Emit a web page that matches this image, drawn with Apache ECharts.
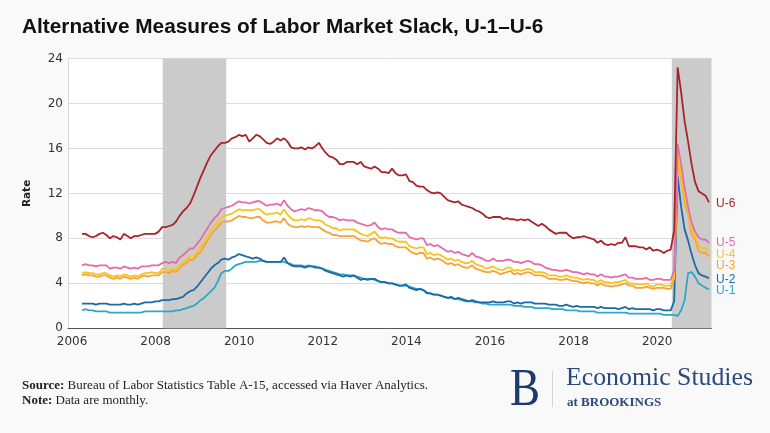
<!DOCTYPE html>
<html>
<head>
<meta charset="utf-8">
<script src="https://cdn.jsdelivr.net/npm/echarts@6/dist/echarts.min.js"></script>
<style>
  html, body { margin: 0; padding: 0; background: #f9f9f9; }
  #chart { width: 770px; height: 433px; }
</style>
</head>
<body>
<div id="chart"></div>
<script>
// Position of the first observation on the picture's year axis
const FIRST_POINT_YEAR = 2006.24;

const xTickLabels = [2006, 2008, 2010, 2012, 2014, 2016, 2018, 2020];
const yTicks = { min: 0, max: 24, interval: 4 };

// Recession shading (picture's year axis)
const recessionStarts = [2008.17, 2020.35];
const recessionEnds   = [2009.69, 2021.30];

const seriesNames = ['U-1', 'U-2', 'U-3', 'U-4', 'U-5', 'U-6'];

const u1 = [
  1.6,1.7,1.6,1.6,1.5,1.5,1.5,1.5,1.4,1.4,1.4,1.4,
  1.4,1.4,1.4,1.4,1.4,1.4,1.5,1.5,1.5,1.5,1.5,1.5,
  1.5,1.5,1.5,1.6,1.6,1.7,1.8,1.9,2.0,2.2,2.5,2.7,
  3.0,3.3,3.6,4.2,4.9,5.1,5.1,5.3,5.6,5.7,5.8,5.9,
  5.9,5.9,5.9,6.0,6.0,5.9,5.9,5.9,5.9,5.9,5.9,5.8,
  5.7,5.6,5.6,5.6,5.5,5.6,5.5,5.5,5.4,5.3,5.2,5.1,
  5.0,4.9,4.8,4.8,4.7,4.7,4.7,4.6,4.5,4.4,4.4,4.4,
  4.3,4.2,4.1,4.1,4.0,4.0,3.9,3.8,3.8,3.8,3.7,3.6,
  3.5,3.5,3.4,3.2,3.1,3.0,3.0,2.9,2.8,2.7,2.7,2.6,
  2.6,2.5,2.4,2.4,2.4,2.3,2.3,2.2,2.2,2.1,2.1,2.1,
  2.1,2.1,2.1,2.1,2.0,2.0,2.0,1.9,1.9,1.9,1.8,1.8,
  1.8,1.8,1.8,1.7,1.7,1.7,1.7,1.6,1.6,1.6,1.6,1.5,
  1.5,1.5,1.5,1.5,1.4,1.4,1.4,1.4,1.4,1.4,1.4,1.4,
  1.4,1.3,1.3,1.3,1.3,1.3,1.3,1.3,1.3,1.3,1.3,1.2,
  1.2,1.2,1.2,1.1,1.6,2.5,4.9,5.0,4.6,4.0,3.8,3.6,
  3.45
];
const u2 = [
  2.2,2.2,2.2,2.2,2.1,2.2,2.2,2.2,2.1,2.1,2.1,2.1,
  2.2,2.1,2.1,2.2,2.1,2.2,2.3,2.3,2.3,2.4,2.4,2.5,
  2.5,2.5,2.6,2.6,2.7,2.8,3.1,3.3,3.4,3.7,4.1,4.5,
  4.9,5.3,5.6,5.8,6.1,6.2,6.1,6.3,6.4,6.6,6.5,6.4,
  6.3,6.2,6.3,6.2,6.0,5.9,5.9,5.9,5.9,5.9,6.3,5.8,
  5.6,5.5,5.5,5.5,5.4,5.5,5.5,5.4,5.4,5.3,5.1,5.0,
  4.9,4.8,4.7,4.6,4.7,4.6,4.7,4.5,4.3,4.4,4.3,4.4,
  4.4,4.2,4.1,4.1,4.0,4.0,3.9,3.8,3.8,3.9,3.6,3.5,
  3.4,3.5,3.4,3.1,3.1,3.0,3.0,2.9,2.8,2.7,2.8,2.6,
  2.7,2.6,2.5,2.4,2.5,2.4,2.3,2.3,2.3,2.3,2.4,2.3,
  2.3,2.3,2.4,2.4,2.2,2.3,2.2,2.3,2.3,2.3,2.2,2.2,
  2.2,2.2,2.1,2.1,2.1,2.0,2.0,2.1,2.0,1.9,2.0,1.9,
  1.9,1.9,1.9,1.9,1.8,1.9,1.8,1.8,1.8,1.8,1.7,1.8,
  1.9,1.7,1.8,1.7,1.7,1.7,1.7,1.7,1.6,1.7,1.7,1.6,
  1.6,1.6,2.4,13.5,10.8,8.8,7.8,6.6,5.6,4.9,4.7,4.6,
  4.45
];
const u3 = [
  4.7,4.8,4.7,4.7,4.6,4.6,4.7,4.7,4.5,4.4,4.5,4.4,
  4.6,4.5,4.4,4.5,4.4,4.6,4.7,4.6,4.7,4.7,4.7,5.0,
  5.0,4.9,5.1,5.0,5.4,5.6,5.8,6.1,6.1,6.5,6.8,7.3,
  7.8,8.3,8.7,9.0,9.4,9.5,9.5,9.6,9.8,10.0,9.9,9.9,
  9.8,9.8,9.9,9.9,9.6,9.4,9.4,9.5,9.5,9.4,9.8,9.3,
  9.1,9.0,9.0,9.1,9.0,9.1,9.0,9.0,9.0,8.8,8.6,8.5,
  8.3,8.3,8.2,8.2,8.2,8.2,8.2,8.0,7.8,7.8,7.7,7.9,
  8.0,7.7,7.5,7.6,7.5,7.5,7.3,7.2,7.2,7.2,6.9,6.7,
  6.6,6.7,6.7,6.2,6.3,6.1,6.2,6.1,5.9,5.7,5.8,5.6,
  5.7,5.5,5.4,5.4,5.6,5.3,5.2,5.1,5.0,5.0,5.1,5.0,
  4.8,4.9,5.0,5.1,4.8,4.9,4.8,4.9,5.0,4.9,4.7,4.7,
  4.7,4.6,4.4,4.4,4.4,4.3,4.3,4.4,4.3,4.2,4.2,4.1,
  4.0,4.1,4.0,4.0,3.8,4.0,3.8,3.8,3.7,3.8,3.8,3.9,
  4.0,3.8,3.8,3.6,3.6,3.6,3.7,3.6,3.5,3.6,3.6,3.6,
  3.5,3.5,4.4,14.8,13.3,11.1,10.2,8.4,7.9,6.9,6.7,6.7,
  6.4
];
const u4 = [
  4.9,5.0,4.9,4.9,4.8,4.8,4.9,4.9,4.7,4.6,4.7,4.6,
  4.8,4.7,4.6,4.7,4.6,4.8,4.9,4.9,5.0,4.9,4.9,5.3,
  5.3,5.1,5.3,5.2,5.6,5.8,6.1,6.4,6.4,6.8,7.2,7.7,
  8.2,8.7,9.1,9.4,9.9,10.0,10.1,10.2,10.4,10.6,10.5,10.5,
  10.5,10.5,10.6,10.6,10.3,10.1,10.2,10.2,10.3,10.1,10.6,10.1,
  9.8,9.6,9.6,9.7,9.6,9.8,9.7,9.6,9.6,9.5,9.2,9.1,
  8.9,8.9,8.7,8.8,8.8,8.8,8.8,8.6,8.4,8.3,8.2,8.4,
  8.6,8.2,8.0,8.1,8.0,8.0,7.8,7.7,7.7,7.7,7.3,7.2,
  7.1,7.2,7.2,6.6,6.7,6.5,6.6,6.5,6.3,6.1,6.2,6.0,
  6.1,5.9,5.8,5.8,6.0,5.7,5.6,5.5,5.3,5.4,5.5,5.3,
  5.2,5.2,5.4,5.4,5.1,5.2,5.1,5.2,5.3,5.2,5.0,5.0,
  5.0,4.9,4.7,4.7,4.7,4.6,4.6,4.7,4.6,4.5,4.5,4.4,
  4.3,4.4,4.3,4.3,4.1,4.3,4.1,4.1,4.0,4.1,4.1,4.2,
  4.3,4.0,4.0,3.9,3.9,3.9,4.0,3.8,3.7,3.9,3.9,3.8,
  3.8,3.8,4.7,15.4,13.7,11.6,10.5,8.8,8.2,7.3,7.1,7.1,
  6.9
];
const u5 = [
  5.6,5.7,5.6,5.6,5.5,5.6,5.6,5.6,5.3,5.4,5.4,5.3,
  5.5,5.4,5.3,5.4,5.3,5.5,5.5,5.5,5.6,5.6,5.6,5.8,
  5.9,5.8,5.9,5.8,6.3,6.5,6.8,7.1,7.1,7.5,7.9,8.4,
  8.9,9.4,9.8,10.1,10.6,10.7,10.8,10.9,11.1,11.3,11.2,11.2,
  11.1,11.2,11.3,11.3,11.1,10.9,11.0,11.0,11.1,10.9,11.4,10.9,
  10.6,10.4,10.5,10.6,10.5,10.7,10.6,10.5,10.5,10.4,10.1,9.9,
  9.9,9.8,9.6,9.7,9.6,9.6,9.6,9.4,9.3,9.2,9.1,9.2,
  9.4,9.0,8.8,8.9,8.8,8.8,8.6,8.5,8.5,8.5,8.1,8.0,
  7.9,8.0,8.0,7.4,7.5,7.3,7.4,7.2,7.0,6.8,6.9,6.7,
  6.8,6.6,6.5,6.4,6.7,6.4,6.3,6.2,6.0,6.0,6.2,6.0,
  6.0,6.0,6.1,6.1,5.9,5.9,5.8,5.9,6.0,5.9,5.7,5.7,
  5.6,5.4,5.3,5.2,5.2,5.1,5.1,5.2,5.1,5.0,5.0,4.9,
  4.8,4.9,4.8,4.8,4.6,4.8,4.6,4.6,4.5,4.6,4.6,4.7,
  4.8,4.5,4.5,4.4,4.4,4.4,4.5,4.3,4.3,4.4,4.4,4.3,
  4.3,4.3,5.2,16.4,14.6,12.5,10.8,9.4,8.6,8.1,7.9,7.9,
  7.6
];
const u6 = [
  8.4,8.4,8.2,8.1,8.2,8.4,8.5,8.3,8.0,8.2,8.1,7.9,
  8.4,8.2,8.0,8.2,8.2,8.3,8.4,8.4,8.4,8.4,8.6,9.0,
  9.0,9.1,9.2,9.5,10.0,10.4,10.7,11.1,11.8,12.6,13.4,14.1,
  14.8,15.4,15.8,16.2,16.5,16.5,16.6,16.9,17.0,17.2,17.1,17.2,
  16.6,16.9,17.2,17.1,16.8,16.5,16.4,16.6,16.9,16.7,16.9,16.6,
  16.1,16.0,16.0,16.1,15.9,16.1,16.0,16.2,16.5,16.0,15.6,15.3,
  15.2,15.0,14.6,14.6,14.8,14.8,14.8,14.6,14.8,14.4,14.3,14.2,
  14.4,14.2,13.9,13.9,13.8,14.2,13.8,13.6,13.6,13.7,13.1,13.0,
  12.7,12.6,12.6,12.3,12.1,12.0,12.1,12.0,11.7,11.4,11.3,11.2,
  11.3,11.0,10.9,10.8,10.7,10.5,10.4,10.2,9.9,9.8,9.9,9.9,
  9.9,9.7,9.8,9.7,9.7,9.6,9.7,9.6,9.7,9.5,9.3,9.1,
  9.3,9.1,8.8,8.6,8.4,8.5,8.5,8.5,8.2,8.0,8.1,8.1,
  8.2,8.1,8.0,7.9,7.6,7.8,7.5,7.4,7.5,7.4,7.6,7.6,
  8.1,7.3,7.3,7.3,7.2,7.2,7.0,7.2,6.9,7.0,6.9,6.7,
  6.9,7.0,8.7,23.2,21.0,18.4,16.6,14.6,13.0,12.2,12.0,11.8,
  11.2
];

const seriesValues = [u1, u2, u3, u4, u5, u6];
const seriesColors = ['#2ea7c4', '#1a6aa8', '#f7a23b', '#f7c51a', '#e66ba8', '#a8242c'];
const labelOffsets = [[0, 1.5], [0, 1], [0, 9], [0, 3.5], [0, 0], [0, 1.5]];

const toPoints = vals => vals.map((v, i) => [FIRST_POINT_YEAR + i / 12, v]);

const chart = echarts.init(document.getElementById('chart'), null, { renderer: 'canvas' });

const lineSeries = seriesNames.map((name, k) => ({
  name: name,
  type: 'line',
  data: toPoints(seriesValues[k]),
  showSymbol: false,
  symbol: 'none',
  z: 3,
  lineStyle: { color: seriesColors[k], width: 1.8 },
  itemStyle: { color: seriesColors[k] },
  emphasis: { disabled: true },
  endLabel: {
    show: true,
    formatter: name,
    color: seriesColors[k],
    fontFamily: 'Liberation Sans',
    fontSize: 12,
    distance: 7,
    offset: labelOffsets[k]
  }
}));

const shadeSeries = {
  name: 'recession',
  type: 'line',
  data: [],
  z: 1,
  silent: true,
  markArea: {
    silent: true,
    itemStyle: { color: '#cbcbcb' },
    data: recessionStarts.map((s, i) => [{ xAxis: s }, { xAxis: recessionEnds[i] }])
  }
};

chart.setOption({
  animation: false,
  backgroundColor: '#f9f9f9',
  title: {
    text: 'Alternative Measures of Labor Market Slack, U-1–U-6',
    left: 17,
    top: 12,
    textStyle: { fontFamily: 'Liberation Sans', fontWeight: 'bold', fontSize: 20.8, color: '#111' }
  },
  grid: {
    left: 68, right: 58.5, top: 58.5, bottom: 104.7,
    show: true, backgroundColor: '#ffffff', borderWidth: 0
  },
  xAxis: {
    type: 'value',
    min: 2005.904,
    max: 2021.30,
    axisLine: { show: true, lineStyle: { color: '#555', width: 1 } },
    axisTick: { show: false },
    splitLine: { show: false },
    axisLabel: {
      customValues: xTickLabels,
      formatter: v => String(Math.round(v)),
      color: '#333',
      fontFamily: 'DejaVu Sans',
      fontSize: 12,
      margin: 8
    }
  },
  yAxis: {
    type: 'value',
    min: yTicks.min, max: yTicks.max, interval: yTicks.interval,
    name: 'Rate',
    nameLocation: 'middle',
    nameRotate: 90,
    nameGap: 35,
    nameTextStyle: { fontFamily: 'DejaVu Sans', fontWeight: 'bold', fontSize: 10.5, color: '#222' },
    axisLine: { show: true, lineStyle: { color: '#d8d8d8', width: 1 } },
    axisTick: { show: false },
    splitLine: { lineStyle: { color: '#dcdcdc', width: 1 } },
    axisLabel: { color: '#333', fontFamily: 'DejaVu Sans', fontSize: 12, margin: 5 }
  },
  series: [shadeSeries].concat(lineSeries),
  graphic: [
    {
      type: 'text', left: 22, top: 379,
      style: {
        text: '{b|Source:} Bureau of Labor Statistics Table A-15, accessed via Haver Analytics.',
        font: '13px "Liberation Serif"', fill: '#222',
        rich: { b: { fontWeight: 'bold', fontFamily: 'Liberation Serif', fontSize: 13, fill: '#222' } }
      }
    },
    {
      type: 'text', left: 22, top: 394,
      style: {
        text: '{b|Note:} Data are monthly.',
        font: '13px "Liberation Serif"', fill: '#222',
        rich: { b: { fontWeight: 'bold', fontFamily: 'Liberation Serif', fontSize: 13, fill: '#222' } }
      }
    },
    {
      type: 'text', x: 510, y: 365, scaleX: 0.85,
      style: { text: 'B', font: '53px "Liberation Serif"', fill: '#1d3a6b' }
    },
    {
      type: 'line', shape: { x1: 552.5, y1: 371, x2: 552.5, y2: 407 },
      style: { stroke: '#d4d4d4', lineWidth: 1 }
    },
    {
      type: 'text', x: 566, y: 365,
      style: { text: 'Economic Studies', font: '25.8px "Liberation Serif"', fill: '#2b4a7b' }
    },
    {
      type: 'text', x: 567, y: 396,
      style: { text: 'at BROOKINGS', font: 'bold 13px "Liberation Serif"', fill: '#2b4a7b' }
    }
  ]
});
</script>
</body>
</html>
